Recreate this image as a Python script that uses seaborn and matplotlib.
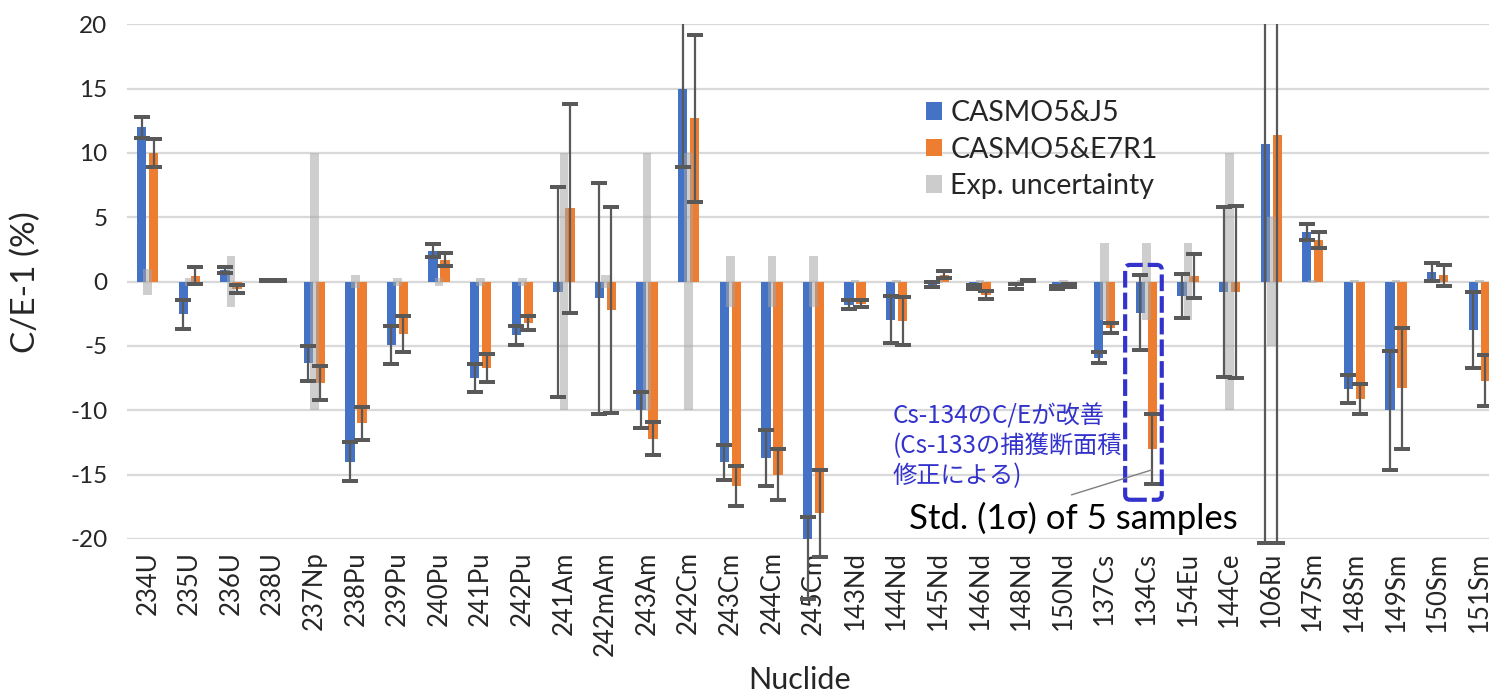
import numpy as np
import pandas as pd
import matplotlib
matplotlib.use("Agg")
import matplotlib.pyplot as plt
import seaborn as sns
from matplotlib.patches import Patch, FancyBboxPatch, Polygon

# ---------------- data ----------------
nuclides = ['234U', '235U', '236U', '238U', '237Np', '238Pu', '239Pu', '240Pu', '241Pu',
            '242Pu', '241Am', '242mAm', '243Am', '242Cm', '243Cm', '244Cm', '245Cm',
            '143Nd', '144Nd', '145Nd', '146Nd', '148Nd', '150Nd', '137Cs', '134Cs',
            '154Eu', '144Ce', '106Ru', '147Sm', '148Sm', '149Sm', '150Sm', '151Sm']

series_names = ['CASMO5&J5', 'CASMO5&E7R1', 'Exp. uncertainty']

j5 = [12.0, -2.55, 0.9, 0.1, -6.35, -14.0, -4.9, 2.4, -7.5, -4.15, -0.8, -1.3, -10.0,
      15.0, -14.05, -13.7, -21.5, -1.8, -2.95, -0.25, -0.4, -0.35, -0.45, -5.9, -2.4,
      -1.1, -0.8, 10.7, 3.85, -8.35, -10.0, 0.75, -3.75]
j5_std = [0.8, 1.15, 0.26, 0.05, 1.35, 1.5, 1.48, 0.5, 1.1, 0.74, 8.15, 9.0, 1.4,
          6.1, 1.33, 2.15, 3.2, 0.36, 1.8, 0.2, 0.15, 0.2, 0.15, 0.4, 2.94,
          1.72, 6.6, 31.0, 0.61, 1.1, 4.63, 0.67, 2.95]

e7 = [10.0, 0.45, -0.55, 0.1, -7.9, -11.0, -4.05, 1.7, -6.7, -3.2, 5.7, -2.2, -12.2,
      12.7, -15.9, -15.0, -18.0, -1.7, -3.05, 0.55, -1.05, 0.1, -0.3, -3.6, -13.0,
      0.45, -0.8, 11.4, 3.2, -9.1, -8.3, 0.5, -7.7]
e7_std = [1.07, 0.66, 0.3, 0.05, 1.33, 1.27, 1.4, 0.52, 1.08, 0.54, 8.1, 8.0, 1.26,
          6.5, 1.55, 1.97, 3.4, 0.3, 1.85, 0.25, 0.3, 0.05, 0.15, 0.39, 2.7,
          1.69, 6.65, 31.7, 0.62, 1.16, 4.73, 0.8, 1.98]

exp_unc = [1.0, 0.3, 2.0, 0.1, 10.0, 0.5, 0.3, 0.3, 0.3, 0.3, 10.0, 0.5, 10.0,
           10.0, 2.0, 2.0, 2.0, 0.1, 0.1, 0.1, 0.1, 0.1, 0.1, 3.0, 3.0,
           3.0, 10.0, 5.0, 0.1, 0.1, 0.1, 0.1, 0.1]

y_ticks = [-20, -15, -10, -5, 0, 5, 10, 15, 20]

note_jp = "Cs-134のC/Eが改善\n(Cs-133の捕獲断面積\n修正による)"
note_std = "Std. (1σ) of 5 samples"

# ---------------- style ----------------
BLUE, ORANGE, GRAY = '#4472C4', '#ED7D31', '#A6A6A6'
sns.set_theme(style='white')
plt.rcParams['font.family'] = ['Lato', 'Noto Sans CJK JP', 'DejaVu Sans']

fig = plt.figure(figsize=(14.89, 6.92), dpi=100)
ax = fig.add_axes([0.0853, 0.2211, 0.9221, 0.7438])

n = len(nuclides)
df = pd.DataFrame({
    'Nuclide': nuclides * 2,
    'value': j5 + e7,
    'series': [series_names[0]] * n + [series_names[1]] * n,
})

sns.barplot(data=df, x='Nuclide', y='value', hue='series', order=nuclides,
            hue_order=series_names[:2], palette=[BLUE, ORANGE], saturation=1,
            width=0.577, gap=0.22, errorbar=None, legend=False, ax=ax,
            zorder=2, linewidth=0)

# experimental uncertainty band (centered on zero)
unc = np.array(exp_unc)
ax.bar(np.arange(n), 2 * unc, bottom=-unc, width=0.21, color=GRAY, alpha=0.55,
       linewidth=0, zorder=3)

# error bars (std of 5 samples): clipped at the top of the plot area only
clip = Polygon([(0, -0.5), (1, -0.5), (1, 1), (0, 1)], closed=True,
               transform=ax.transAxes)
for cont, vals, errs in zip(ax.containers[:2], [j5, e7], [j5_std, e7_std]):
    xs = [b.get_x() + b.get_width() / 2 for b in cont]
    eb = ax.errorbar(xs, vals, yerr=errs, fmt='none', ecolor='#595959',
                     elinewidth=1.6, capsize=5.5, capthick=1.6, zorder=4)
    for art in list(eb[1]) + list(eb[2]):
        art.set_clip_on(True)
        art.set_clip_box(None)
        art.set_clip_path(clip)

ax.set_xlim(-0.5, n - 0.5)
ax.set_ylim(-20, 20)
ax.set_yticks(y_ticks)
ax.set_yticklabels([str(t) for t in y_ticks])
ax.yaxis.grid(True, color='#D9D9D9', linewidth=1.6, zorder=0)
ax.xaxis.grid(False)
ax.set_axisbelow(True)
for s in ax.spines.values():
    s.set_visible(False)

ax.tick_params(axis='y', labelsize=17.5, pad=14, length=0)
ax.tick_params(axis='x', labelsize=18.5, pad=9, length=0, labelrotation=90)

ax.set_ylabel('C/E-1 (%)', fontsize=24)
ax.yaxis.set_label_coords(-0.0625, 0.5)
ax.set_xlabel('Nuclide', fontsize=22)
ax.xaxis.set_label_coords(0.49, -0.274)
ax.xaxis.label.set_va('center')

# legend
handles = [Patch(facecolor=BLUE, edgecolor='none'),
           Patch(facecolor=ORANGE, edgecolor='none'),
           Patch(facecolor='#CCCCCC', edgecolor='none')]
ax.legend(handles, series_names, loc='upper left',
          bbox_to_anchor=(926 / 1489, 1 - 100 / 692), bbox_transform=fig.transFigure,
          frameon=False, fontsize=20.5, handlelength=0.56, handleheight=0.56,
          handletextpad=0.3, labelspacing=0.37, borderpad=0, borderaxespad=0)

# annotations
box = FancyBboxPatch((23.49, -16.95), 0.88, 18.25,
                     boxstyle='round,pad=0,rounding_size=0.12', mutation_aspect=3.2,
                     fill=False, edgecolor='#3333CC', linewidth=3,
                     linestyle=(0, (4, 1.2)), zorder=6, clip_on=False)
ax.add_patch(box)
ax.text(17.9, -9.45, note_jp, color='#3333CC', fontsize=17.5, ha='left', va='top',
        linespacing=1.2, family=['Noto Sans CJK JP', 'DejaVu Sans'], zorder=6)
ax.plot([22.2, 24.13], [-16.57, -14.63], color='#7F7F7F', linewidth=1, zorder=6)
ax.text(18.29, -18.4, note_std, color='black', fontsize=25, ha='left',
        va='center', zorder=6)

fig.savefig('out.png', dpi=100)
